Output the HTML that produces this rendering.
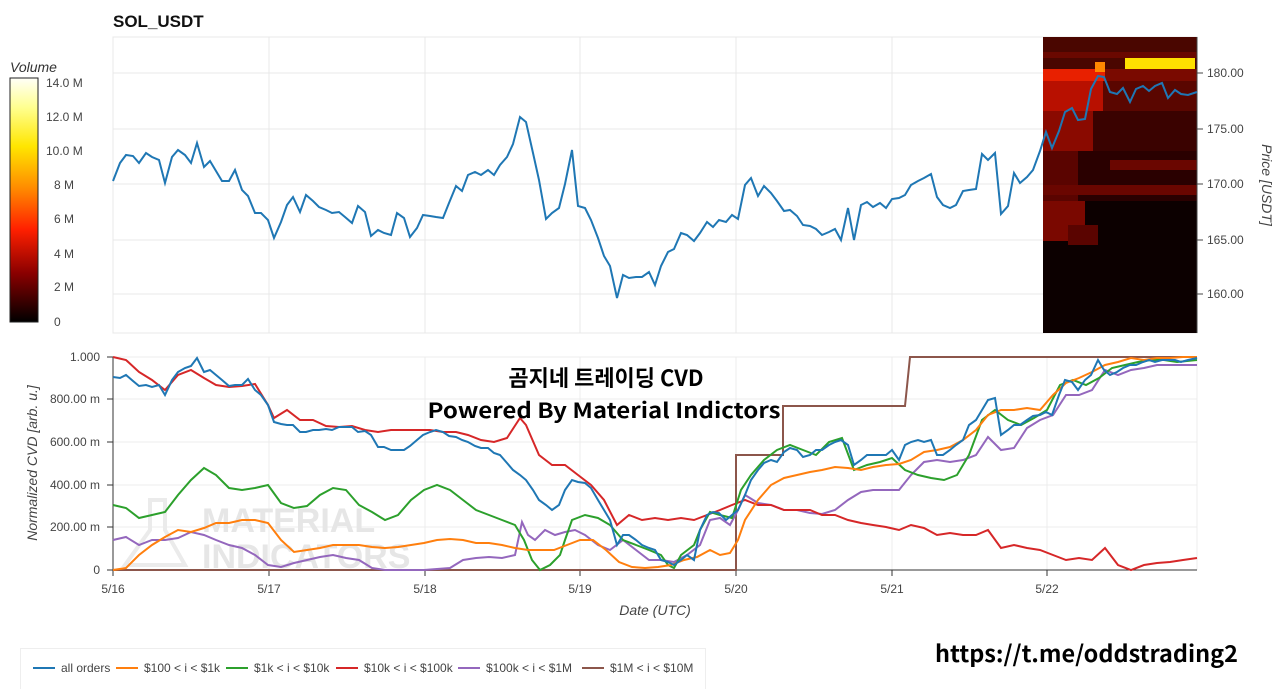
<!DOCTYPE html>
<html><head><meta charset="utf-8"><style>
body{margin:0;background:#fff;width:1280px;height:689px;overflow:hidden;font-family:"Liberation Sans","Noto Sans CJK KR",sans-serif}
svg text{font-family:"Liberation Sans","Noto Sans CJK KR",sans-serif}
svg text.k{font-family:"Noto Sans CJK KR",sans-serif}
</style></head><body>
<svg width="1280" height="689" viewBox="0 0 1280 689" xmlns="http://www.w3.org/2000/svg">
<defs>
<linearGradient id="cb" x1="0" y1="0" x2="0" y2="1">
<stop offset="0" stop-color="#fffff8"/><stop offset="0.12" stop-color="#ffff90"/><stop offset="0.28" stop-color="#ffe600"/><stop offset="0.45" stop-color="#ff8c00"/><stop offset="0.62" stop-color="#ff2000"/><stop offset="0.8" stop-color="#8a0000"/><stop offset="1" stop-color="#000"/>
</linearGradient>
</defs>
<text x="113" y="27" font-size="17" font-weight="bold" fill="#111">SOL_USDT</text>
<text x="10" y="72" font-size="14" font-style="italic" fill="#333">Volume</text>
<rect x="10" y="78" width="28" height="244" fill="url(#cb)" stroke="#222"/>
<g font-size="12" fill="#444">
<text x="46" y="87">14.0 M</text><text x="46" y="121">12.0 M</text><text x="46" y="155">10.0 M</text><text x="54" y="189">8 M</text><text x="54" y="223">6 M</text><text x="54" y="258">4 M</text><text x="54" y="291">2 M</text><text x="54" y="326">0</text>
</g>
<g stroke="#e8e8e8" stroke-width="1">
<rect x="113" y="37" width="1084" height="296" fill="none"/>
<line x1="113" y1="73" x2="1197" y2="73"/><line x1="113" y1="129" x2="1197" y2="129"/><line x1="113" y1="184" x2="1197" y2="184"/><line x1="113" y1="240" x2="1197" y2="240"/><line x1="113" y1="294" x2="1197" y2="294"/>
<line x1="269" y1="37" x2="269" y2="333"/><line x1="425" y1="37" x2="425" y2="333"/><line x1="580" y1="37" x2="580" y2="333"/><line x1="736" y1="37" x2="736" y2="333"/><line x1="892" y1="37" x2="892" y2="333"/><line x1="1047" y1="37" x2="1047" y2="333"/>
</g>
<g>
<rect x="1043" y="37" width="154" height="296" fill="#120000"/>
<rect x="1043" y="37" width="154" height="32" fill="#4a0600"/>
<rect x="1043" y="52" width="154" height="6" fill="#6a0800"/>
<rect x="1043" y="69" width="62" height="12" fill="#e82000"/>
<rect x="1105" y="69" width="92" height="12" fill="#7a0a00"/>
<rect x="1125" y="58" width="70" height="11" fill="#ffe000"/>
<rect x="1095" y="62" width="10" height="10" fill="#ff8800"/>
<rect x="1043" y="81" width="154" height="30" fill="#5a0600"/>
<rect x="1043" y="81" width="60" height="30" fill="#b81000"/>
<rect x="1043" y="111" width="154" height="40" fill="#3a0200"/>
<rect x="1043" y="111" width="50" height="40" fill="#8a0a00"/>
<rect x="1043" y="151" width="154" height="50" fill="#2a0000"/>
<rect x="1043" y="151" width="35" height="50" fill="#5a0400"/>
<rect x="1110" y="160" width="87" height="10" fill="#6a0600"/>
<rect x="1043" y="185" width="154" height="10" fill="#6a0600"/>
<rect x="1043" y="201" width="60" height="40" fill="#7a0800"/>
<rect x="1085" y="201" width="112" height="132" fill="#0c0000"/>
<rect x="1043" y="241" width="42" height="92" fill="#0c0000"/>
<rect x="1068" y="225" width="30" height="20" fill="#5a0400"/>
</g>
<g stroke="#444"><line x1="1197" y1="37" x2="1197" y2="333"/>
<line x1="1197" y1="73" x2="1203" y2="73"/><line x1="1197" y1="129" x2="1203" y2="129"/><line x1="1197" y1="184" x2="1203" y2="184"/><line x1="1197" y1="240" x2="1203" y2="240"/><line x1="1197" y1="294" x2="1203" y2="294"/></g>
<g font-size="12" fill="#444"><text x="1207" y="77">180.00</text><text x="1207" y="133">175.00</text><text x="1207" y="188">170.00</text><text x="1207" y="244">165.00</text><text x="1207" y="298">160.00</text></g>
<text transform="translate(1262,185) rotate(90)" font-size="14" font-style="italic" fill="#444" text-anchor="middle">Price [USDT]</text>
<polyline fill="none" stroke="#1f77b4" stroke-width="2" points="113,181 120,163 126,155 133,156 139,163 146,153 152,157 159,160 165,183 172,157 178,150 185,155 191,163 197,143 204,167 210,161 216,171 222,181 229,181 235,170 242,190 248,196 255,213 261,213 268,220 274,238 281,222 287,205 293,197 300,212 306,195 313,201 319,207 326,210 332,213 339,212 345,217 352,223 358,206 365,212 371,236 378,230 384,233 391,235 397,213 404,218 410,237 417,228 423,215 430,216 436,217 443,218 449,203 456,186 462,191 468,175 475,172 481,175 488,170 494,175 500,165 507,157 513,144 520,117 526,122 533,153 539,180 546,219 552,213 559,208 565,184 572,150 578,206 585,208 591,220 598,238 604,256 610,266 617,298 623,275 629,278 636,277 642,277 649,272 655,285 661,266 668,252 674,249 681,233 687,235 694,241 700,233 707,222 713,227 719,220 726,222 732,215 738,219 745,185 751,178 758,196 764,186 771,193 777,201 784,211 790,210 797,216 803,225 810,226 816,229 822,235 829,232 835,229 841,240 848,208 854,240 861,205 867,202 873,207 880,203 886,208 892,199 899,198 905,195 911,185 918,181 924,178 931,174 937,197 943,205 950,208 956,205 963,191 969,190 976,189 982,154 988,160 995,153 1001,214 1008,206 1014,173 1020,183 1027,177 1033,170 1040,151 1046,132 1052,148 1059,131 1065,112 1072,108 1078,120 1085,119 1091,89 1098,76 1104,77 1110,92 1117,94 1123,88 1130,102 1136,89 1143,86 1149,91 1155,86 1162,83 1168,98 1175,90 1181,94 1188,95 1197,92"/>
<g stroke="#ececec"><line x1="113" y1="357" x2="1197" y2="357"/><line x1="113" y1="399" x2="1197" y2="399"/><line x1="113" y1="442" x2="1197" y2="442"/><line x1="113" y1="485" x2="1197" y2="485"/><line x1="113" y1="527" x2="1197" y2="527"/>
<line x1="269" y1="357" x2="269" y2="570"/><line x1="425" y1="357" x2="425" y2="570"/><line x1="580" y1="357" x2="580" y2="570"/><line x1="736" y1="357" x2="736" y2="570"/><line x1="892" y1="357" x2="892" y2="570"/><line x1="1047" y1="357" x2="1047" y2="570"/><line x1="1197" y1="357" x2="1197" y2="570"/></g>
<g fill="#e6e6e6" font-weight="bold" font-size="34"><text x="202" y="532">MATERIAL</text><text x="202" y="568">INDICATORS</text></g>
<path d="M150,500 L165,500 L165,530 L185,565 L125,565 L150,530Z" fill="none" stroke="#ebebeb" stroke-width="4"/>
<g stroke="#333"><line x1="113" y1="357" x2="113" y2="570"/><line x1="113" y1="570" x2="1197" y2="570"/>
<line x1="107" y1="357" x2="113" y2="357"/><line x1="107" y1="399" x2="113" y2="399"/><line x1="107" y1="442" x2="113" y2="442"/><line x1="107" y1="485" x2="113" y2="485"/><line x1="107" y1="527" x2="113" y2="527"/><line x1="107" y1="570" x2="113" y2="570"/>
<line x1="113" y1="570" x2="113" y2="576"/><line x1="269" y1="570" x2="269" y2="576"/><line x1="425" y1="570" x2="425" y2="576"/><line x1="580" y1="570" x2="580" y2="576"/><line x1="736" y1="570" x2="736" y2="576"/><line x1="892" y1="570" x2="892" y2="576"/><line x1="1047" y1="570" x2="1047" y2="576"/></g>
<g font-size="12" fill="#444" text-anchor="end"><text x="100" y="361">1.000</text><text x="100" y="403">800.00 m</text><text x="100" y="446">600.00 m</text><text x="100" y="489">400.00 m</text><text x="100" y="531">200.00 m</text><text x="100" y="574">0</text></g>
<g font-size="12" fill="#444" text-anchor="middle"><text x="113" y="593">5/16</text><text x="269" y="593">5/17</text><text x="425" y="593">5/18</text><text x="580" y="593">5/19</text><text x="736" y="593">5/20</text><text x="892" y="593">5/21</text><text x="1047" y="593">5/22</text></g>
<text x="655" y="615" font-size="14" font-style="italic" fill="#444" text-anchor="middle">Date (UTC)</text>
<text transform="translate(37,463) rotate(-90)" font-size="14" font-style="italic" fill="#444" text-anchor="middle">Normalized CVD [arb. u.]</text>
<g fill="none" stroke-width="2">
<polyline stroke="#8c564b" points="113,570 736,570 736,455 783,455 783,406 905,406 910,357 1197,357"/>
<polyline stroke="#9467bd" points="113,540 126,537 139,545 152,540 165,540 178,538 191,532 204,535 216,540 229,545 242,548 255,555 268,565 281,567 294,563 307,560 320,557 333,555 346,558 359,560 372,568 385,570 398,570 424,570 450,568 463,560 476,558 489,557 502,558 515,555 522,522 528,535 535,540 545,530 555,535 565,532 575,530 585,535 598,545 610,550 623,540 636,550 649,560 661,560 674,562 687,555 700,545 710,520 720,518 730,525 738,510 745,495 758,503 771,505 784,510 797,510 810,513 822,514 835,510 848,500 861,492 873,490 886,490 899,490 911,475 924,462 937,460 950,462 963,460 976,455 988,437 1001,450 1014,448 1027,428 1040,420 1053,415 1066,395 1079,395 1092,390 1105,370 1118,375 1131,370 1144,368 1157,365 1170,365 1183,365 1197,365"/>
<polyline stroke="#d62728" points="113,357 126,360 139,372 152,380 165,390 178,375 191,370 204,378 216,385 229,387 242,386 255,384 268,405 274,418 287,410 300,420 313,420 326,426 339,427 352,426 365,430 378,432 391,430 404,430 417,430 430,430 443,432 456,432 468,435 481,440 494,442 507,438 520,418 526,425 539,455 552,465 565,465 578,475 591,485 604,500 617,525 629,515 642,520 655,518 668,520 681,518 694,520 707,515 720,510 732,505 745,500 758,505 771,505 784,510 797,510 810,510 822,515 835,515 848,520 861,523 873,525 886,527 899,530 911,525 924,528 937,535 950,533 963,535 976,535 988,530 1001,548 1014,545 1027,548 1040,550 1053,555 1066,560 1079,558 1092,560 1105,548 1118,565 1131,570 1144,565 1157,563 1170,562 1183,560 1197,558"/>
<polyline stroke="#2ca02c" points="113,505 126,508 139,518 152,515 165,512 178,495 191,480 204,468 216,475 229,488 242,490 255,488 268,485 281,503 294,508 307,506 320,495 333,488 346,490 359,505 372,512 385,520 398,515 411,500 424,490 437,485 450,490 463,500 476,510 489,515 502,520 515,525 524,540 532,560 540,570 550,565 560,555 565,540 572,520 585,515 598,518 610,525 623,540 636,545 649,550 661,555 668,565 674,568 681,555 694,545 700,530 710,512 720,515 732,518 741,490 751,475 764,460 777,450 790,445 803,450 816,455 829,442 842,438 854,470 867,465 880,462 892,458 905,470 918,475 931,478 944,480 957,475 969,455 982,420 995,410 1008,420 1021,425 1034,418 1047,410 1060,385 1073,380 1086,385 1099,378 1112,368 1125,365 1138,362 1151,360 1164,360 1177,362 1197,360"/>
<polyline stroke="#ff7f0e" points="113,570 126,568 139,555 152,545 165,537 178,530 191,532 204,528 216,523 229,523 242,520 255,520 268,523 281,540 294,552 307,550 320,548 333,545 346,545 359,545 372,547 385,548 398,547 411,545 424,543 437,540 450,539 463,540 476,543 489,543 502,545 515,548 528,550 541,550 554,550 567,545 580,540 593,540 606,550 619,562 632,567 645,568 658,567 671,565 684,560 697,557 710,550 720,555 730,553 738,540 745,520 758,500 771,485 784,478 797,475 810,472 822,470 835,467 848,468 861,470 873,467 886,465 899,464 911,460 924,452 937,450 950,447 963,440 976,430 988,415 1001,410 1014,410 1027,408 1040,410 1053,395 1066,383 1079,378 1092,372 1105,365 1118,362 1131,358 1144,360 1157,358 1170,358 1183,357 1197,357"/>
<polyline stroke="#1f77b4" points="113,377 120,378 126,375 133,381 139,386 146,385 152,387 159,385 165,395 172,380 178,372 185,368 191,366 197,358 204,372 210,370 216,375 222,380 229,386 235,385 242,385 248,379 255,390 261,395 268,405 274,422 281,424 287,425 293,425 300,432 306,432 313,430 319,430 326,429 332,430 339,427 345,427 352,427 358,432 365,431 371,435 378,447 384,447 391,450 397,450 404,450 410,446 417,440 423,435 430,432 436,430 443,432 449,436 456,437 462,440 468,442 475,446 481,448 488,448 494,453 500,455 507,463 513,470 520,475 526,480 533,490 539,500 546,505 552,510 559,505 565,490 572,480 578,482 585,483 591,488 598,500 604,510 610,520 617,545 623,535 629,535 636,540 642,545 649,548 655,550 661,560 668,562 674,565 681,560 687,555 694,560 700,530 707,515 713,512 719,513 726,520 732,515 738,510 745,495 751,480 758,470 764,463 771,460 777,462 784,452 790,448 797,450 803,457 810,455 816,450 822,450 829,445 835,442 841,440 848,445 854,465 861,460 867,455 873,455 880,455 886,455 892,450 899,460 905,445 911,442 918,440 924,442 931,440 937,455 943,455 950,450 956,445 963,440 969,425 976,420 982,410 988,400 995,398 1001,435 1008,430 1014,425 1020,425 1027,420 1033,416 1040,415 1046,412 1052,415 1059,395 1065,380 1072,382 1078,390 1085,380 1091,375 1098,360 1104,370 1110,375 1117,372 1123,368 1130,365 1136,365 1143,362 1149,360 1155,362 1162,360 1168,360 1175,360 1181,362 1188,360 1197,358"/>
</g>
<text class="k" x="606" y="386" font-size="22" font-weight="bold" fill="#000" text-anchor="middle">곰지네 트레이딩 CVD</text>
<text class="k" x="604" y="418" font-size="21" font-weight="bold" fill="#000" text-anchor="middle" textLength="353" lengthAdjust="spacingAndGlyphs">Powered By Material Indictors</text>
<rect x="20.5" y="648.5" width="685" height="45" fill="#fff" stroke="#eee"/>
<g stroke-width="2"><line x1="33" y1="668" x2="55" y2="668" stroke="#1f77b4"/><line x1="116" y1="668" x2="138" y2="668" stroke="#ff7f0e"/><line x1="226" y1="668" x2="248" y2="668" stroke="#2ca02c"/><line x1="336" y1="668" x2="358" y2="668" stroke="#d62728"/><line x1="458" y1="668" x2="480" y2="668" stroke="#9467bd"/><line x1="582" y1="668" x2="604" y2="668" stroke="#8c564b"/></g>
<g font-size="12" fill="#444"><text x="61" y="672">all orders</text><text x="144" y="672">$100 &lt; i &lt; $1k</text><text x="254" y="672">$1k &lt; i &lt; $10k</text><text x="364" y="672">$10k &lt; i &lt; $100k</text><text x="486" y="672">$100k &lt; i &lt; $1M</text><text x="610" y="672">$1M &lt; i &lt; $10M</text></g>
<text class="k" x="935" y="662" font-size="23" font-weight="bold" fill="#000" textLength="303" lengthAdjust="spacingAndGlyphs">https://t.me/oddstrading2</text>
</svg>
</body></html>
